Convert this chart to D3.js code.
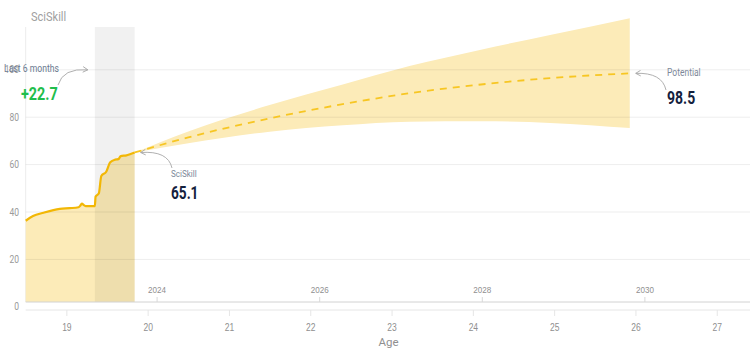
<!DOCTYPE html>
<html><head><meta charset="utf-8">
<script src="https://cdn.jsdelivr.net/npm/d3@7"></script>
<style>
html,body{margin:0;padding:0;background:#fff;}
svg{display:block;font-family:"Roboto","DejaVu Sans",sans-serif;}
</style></head>
<body><svg id="chart" width="750" height="355"></svg>
<script>
// ---- data ----
const histAge   = [18.5, 18.59, 18.72, 18.84, 18.92, 19.04, 19.15, 19.17, 19.19, 19.22, 19.24, 19.35, 19.36, 19.40, 19.43, 19.49, 19.54, 19.60, 19.64, 19.67, 19.74, 19.79, 19.84];
const histValue = [36.3, 38.3, 39.7, 40.8, 41.3, 41.6, 42.0, 42.6, 43.5, 42.8, 42.5, 42.5, 46.5, 47.9, 55.2, 57.0, 61.0, 62.1, 62.3, 63.6, 63.9, 64.5, 65.1];
const fcAge     = [19.84, 20.5, 21.5, 22.4, 23.22, 24.1, 24.95, 25.93];
const fcMid     = [65.1, 71.5, 79.5, 85.5, 90.1, 93.8, 96.5, 98.5];
const fcUpper   = [65.1, 74.0, 85.1, 93.8, 101.6, 108.5, 114.7, 121.8];
const fcLower   = [65.1, 69.0, 73.9, 76.6, 78.1, 78.3, 77.6, 75.4];
const ageTicks  = [19, 20, 21, 22, 23, 24, 25, 26, 27];
const yearTicks = [2024, 2026, 2028, 2030];
const yTicks    = [0, 20, 40, 60, 80, 100];
const windowStartAge = 19.35;   // "last 6 months" window
const windowEndAge   = 19.84;
const yearOffset = 2003.89;     // year = age + offset
const currentValue = 65.1, potentialValue = 98.5, changeValue = "+22.7";

// ---- layout ----
const svg = d3.select("#chart");
const left = 25.7, right = 750, plotTop = 27, yearAxisY = 302, ageAxisY = 310;
const x = d3.scaleLinear().domain([18.5, 18.5 + (right - left) / 81.3]).range([left, right]);
const y = d3.scaleLinear().domain([0, 100]).range([306.8, 69.8]);
const xYear = d3.scaleLinear().domain(x.domain().map(a => a + yearOffset)).range(x.range());

const yellowFill = "#fcebb8";
const hist = histAge.map((a, i) => ({a, v: histValue[i]}));
const fc = fcAge.map((a, i) => ({a, m: fcMid[i], u: fcUpper[i], l: fcLower[i]}));

function condense(sel, f) {
  sel.each(function () {
    const w = this.getComputedTextLength();
    d3.select(this).attr("textLength", w * f).attr("lengthAdjust", "spacingAndGlyphs");
  });
  return sel;
}

// y axis vertical line
svg.append("line").attr("x1", left).attr("x2", left).attr("y1", plotTop).attr("y2", yearAxisY)
  .attr("stroke", "#ececec");

// historical area
svg.append("path").datum(hist)
  .attr("d", d3.area().x(d => x(d.a)).y0(yearAxisY).y1(d => y(d.v)).curve(d3.curveMonotoneX))
  .attr("fill", yellowFill);

// forecast band
svg.append("path").datum(fc)
  .attr("d", d3.area().x(d => x(d.a)).y0(d => y(d.l)).y1(d => y(d.u)).curve(d3.curveMonotoneX))
  .attr("fill", yellowFill);

// last-6-months window
svg.append("rect").attr("x", x(windowStartAge)).attr("y", plotTop)
  .attr("width", x(windowEndAge) - x(windowStartAge)).attr("height", yearAxisY - plotTop)
  .attr("fill", "rgba(0,0,0,0.055)");

// gridlines
svg.append("g").selectAll("line").data(yTicks.filter(t => t > 0)).join("line")
  .attr("x1", left).attr("x2", right).attr("y1", d => y(d)).attr("y2", d => y(d))
  .attr("stroke", "rgba(0,0,0,0.07)");

// y tick labels
condense(svg.append("g").selectAll("text").data(yTicks).join("text")
  .attr("x", 19).attr("y", d => y(d)).attr("dy", "0.35em").attr("text-anchor", "end")
  .attr("font-size", 10).attr("fill", "#9a9a9a").text(d => d), 0.85);

// forecast dashed line
svg.append("path").datum(fc)
  .attr("d", d3.line().x(d => x(d.a)).y(d => y(d.m)).curve(d3.curveMonotoneX))
  .attr("fill", "none").attr("stroke", "#f7c623").attr("stroke-width", 1.8)
  .attr("stroke-dasharray", "7,6");

// historical line
svg.append("path").datum(hist)
  .attr("d", d3.line().x(d => x(d.a)).y(d => y(d.v)).curve(d3.curveMonotoneX))
  .attr("fill", "none").attr("stroke", "#f2b705").attr("stroke-width", 2.2)
  .attr("stroke-linejoin", "round");

// year axis (top of x axes)
const yearAxis = d3.axisTop(xYear).tickValues(yearTicks).tickFormat(d3.format("d")).tickSize(5).tickPadding(4);
const gy = svg.append("g").attr("transform", `translate(0,${yearAxisY})`).call(yearAxis);
gy.select(".domain").attr("stroke", "#d2d2d2").attr("d", `M${left},0H${right}`);
gy.selectAll(".tick line").attr("stroke", "#d8d8d8");
condense(gy.selectAll(".tick text").attr("fill", "#8f8f8f").attr("font-size", 9.5).attr("font-family", null), 0.85);

// age axis
const ageAxis = d3.axisBottom(x).tickValues(ageTicks).tickSize(6).tickPadding(8);
const ga = svg.append("g").attr("transform", `translate(0,${ageAxisY})`).call(ageAxis);
ga.select(".domain").attr("stroke", "#e6e6e6").attr("d", `M${left},0H${right}`);
ga.selectAll(".tick line").attr("stroke", "#e6e6e6");
condense(ga.selectAll(".tick text").attr("fill", "#8f8f8f").attr("font-size", 10).attr("font-family", null), 0.85);
svg.append("text").attr("x", x(23) - 3).attr("y", 346).attr("text-anchor", "middle")
  .attr("font-size", 11.5).attr("fill", "#8f8f8f").text("Age");

// title
condense(svg.append("text").attr("x", 31).attr("y", 21).attr("font-size", 12).attr("fill", "#a0a0a0").text("SciSkill"), 0.92);

// arrow marker
const defs = svg.append("defs");
defs.append("marker").attr("id", "arr").attr("viewBox", "0 0 10 10").attr("refX", 8).attr("refY", 5)
  .attr("markerWidth", 7).attr("markerHeight", 7).attr("orient", "auto-start-reverse")
  .attr("markerUnits", "userSpaceOnUse")
  .append("path").attr("d", "M1,1L8,5L1,9").attr("fill", "none").attr("stroke", "#a8a8a8").attr("stroke-width", 1.3);

function arrow(x0, y0, x1, y1, cx, cy) {
  svg.append("path").attr("d", `M${x0},${y0}Q${cx},${cy} ${x1},${y1}`)
    .attr("fill", "none").attr("stroke", "#b0b0b0").attr("stroke-width", 1)
    .attr("marker-end", "url(#arr)");
}

// Last 6 months annotation
const wx = x(windowStartAge);
condense(svg.append("text").attr("x", 4).attr("y", 72).attr("font-size", 10.5).attr("fill", "#6b7a90").text("Last 6 months"), 0.82);
condense(svg.append("text").attr("x", 21).attr("y", 100).attr("font-size", 18).attr("font-weight", "bold")
  .attr("fill", "#1fbe4c").text(changeValue), 0.8);
arrow(58, 85, wx - 7, y(100), 63, y(100) - 2);

// current value annotation
const cx0 = x(windowEndAge) + 6, cy0 = y(currentValue);
arrow(172, 168, cx0, cy0, 168, cy0 - 2);
condense(svg.append("text").attr("x", 171).attr("y", 177).attr("font-size", 9.5).attr("fill", "#7c8899").text("SciSkill"), 0.85);
condense(svg.append("text").attr("x", 171).attr("y", 199).attr("font-size", 17.5).attr("font-weight", "bold")
  .attr("fill", "#14213d").text(currentValue.toFixed(1)), 0.78);

// potential annotation
const px0 = x(fcAge[fcAge.length - 1]) + 6, py0 = y(potentialValue);
arrow(666, 90, px0, py0, 662, py0 - 1);
condense(svg.append("text").attr("x", 667).attr("y", 76).attr("font-size", 10).attr("fill", "#7c8899").text("Potential"), 0.85);
condense(svg.append("text").attr("x", 667).attr("y", 104).attr("font-size", 17.5).attr("font-weight", "bold")
  .attr("fill", "#14213d").text(potentialValue.toFixed(1)), 0.8);
</script></body></html>
